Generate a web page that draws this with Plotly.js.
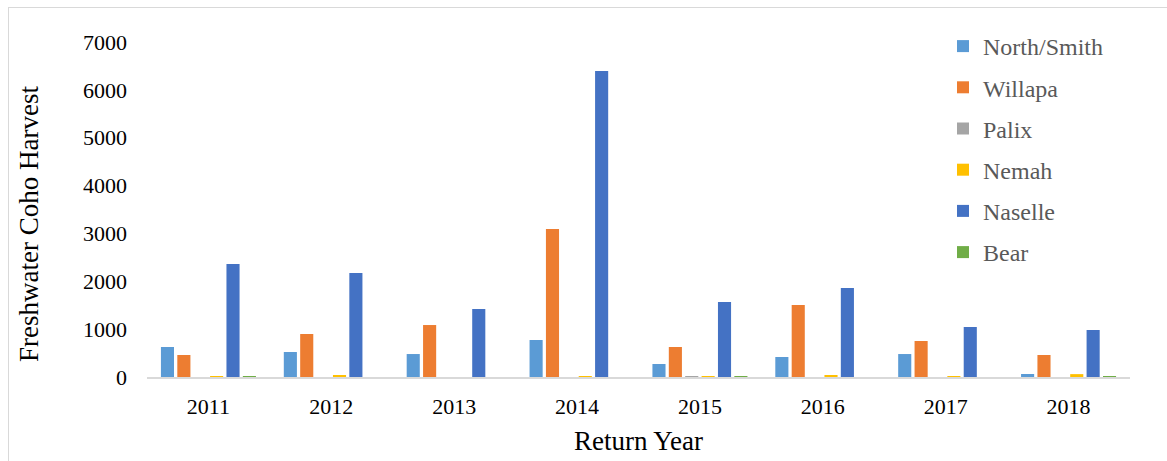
<!DOCTYPE html>
<html>
<head>
<meta charset="utf-8">
<script src="https://cdn.plot.ly/plotly-3.0.1.min.js"></script>
<style>
  html, body { margin: 0; padding: 0; background: #ffffff; }
  #chart { width: 1167px; height: 461px; }
</style>
</head>
<body>
<div id="chart"></div>
<script>
const years = ["2011", "2012", "2013", "2014", "2015", "2016", "2017", "2018"];
const seriesNames = ["North/Smith", "Willapa", "Palix", "Nemah", "Naselle", "Bear"];
const northSmith = [627, 522, 480, 773, 272, 418, 480, 63];
const willapa = [460, 898, 1086, 3092, 627, 1504, 752, 460];
const palix = [0, 0, 0, 0, 5, 0, 0, 0];
const nemah = [5, 25, 0, 5, 3, 25, 10, 60];
const naselle = [2360, 2173, 1420, 6394, 1567, 1860, 1045, 982];
const bear = [10, 0, 0, 0, 5, 0, 0, 5];
const seriesValues = [northSmith, willapa, palix, nemah, naselle, bear];
const colors = ["#5B9BD5", "#ED7D31", "#A5A5A5", "#FFC000", "#4472C4", "#70AD47"];
const yTitle = "Freshwater Coho Harvest";
const xTitle = "Return Year";

const serif = "Liberation Serif";

const traces = seriesNames.map((name, i) => ({
  type: "bar",
  name: name,
  x: years,
  y: seriesValues[i],
  legendgroup: "g" + i,
  marker: { color: colors[i] },
  hoverinfo: "x+y+name"
}));

const W = 1167, H = 461;
const m = { l: 147, r: 37, t: 42, b: 84 };
const pw = W - m.l - m.r, ph = H - m.t - m.b;
const px = v => (v - m.l) / pw;
const py = v => (H - m.b - v) / ph;

const layout = {
  width: W,
  height: H,
  margin: m,
  paper_bgcolor: "#ffffff",
  plot_bgcolor: "#ffffff",
  barmode: "group",
  bargap: 0.2,
  bargroupgap: 0.2,
  font: { family: serif, color: "#000000", size: 22 },
  showlegend: true,
  legend: {
    x: px(943), xanchor: "left",
    y: py(24), yanchor: "top",
    bgcolor: "rgba(0,0,0,0)",
    font: { family: serif, size: 24, color: "#595959" },
    tracegroupgap: 7,
    maxheight: 440
  },
  xaxis: {
    type: "category",
    showgrid: false,
    showline: true,
    linecolor: "#d9d9d9",
    linewidth: 2,
    ticks: "",
    ticklabelstandoff: 9,
    tickfont: { family: serif, size: 22, color: "#000000" },
    title: { text: xTitle, font: { family: serif, size: 27, color: "#000000" }, standoff: 13 }
  },
  yaxis: {
    range: [0, 7000],
    dtick: 1000,
    showgrid: false,
    zeroline: false,
    showline: false,
    ticks: "",
    ticklabelstandoff: 19,
    tickfont: { family: serif, size: 22, color: "#000000" }
  },
  annotations: [
    { text: yTitle, xref: "paper", yref: "paper", x: px(29), y: py(224), xanchor: "center", yanchor: "middle",
      textangle: -90, showarrow: false, font: { family: serif, size: 27, color: "#000000" } }
  ],
  shapes: [
    { type: "line", xref: "paper", yref: "paper", x0: px(8), x1: px(1167), y0: py(7.5), y1: py(7.5), line: { color: "#d9d9d9", width: 1 } },
    { type: "line", xref: "paper", yref: "paper", x0: px(8.5), x1: px(8.5), y0: py(7), y1: py(461), line: { color: "#d9d9d9", width: 1 } }
  ]
};

Plotly.newPlot("chart", traces, layout, { displayModeBar: false, responsive: false });
</script>
</body>
</html>
